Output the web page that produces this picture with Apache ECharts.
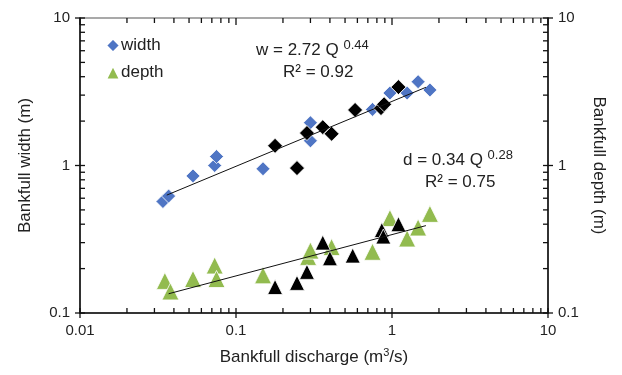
<!DOCTYPE html>
<html><head><meta charset="utf-8">
<script src="https://cdn.jsdelivr.net/npm/echarts@6/dist/echarts.min.js"></script>
<style>html,body{margin:0;padding:0;background:#fff}#c{width:622px;height:375px}</style>
</head><body><div id="c"></div>
<script>
// Width data (m) vs discharge (m3/s)
const widthBlue = [[0.034,0.57],[0.037,0.62],[0.053,0.85],[0.073,1.0],[0.075,1.15],[0.149,0.95],[0.30,1.95],[0.30,1.47],[0.75,2.4],[0.97,3.1],[1.25,3.1],[1.47,3.7],[1.75,3.25]];
const widthBlack = [[0.178,1.36],[0.246,0.96],[0.285,1.66],[0.36,1.82],[0.41,1.64],[0.58,2.38],[0.85,2.45],[0.89,2.6],[1.1,3.4]];
const depthGreen = [[0.035,0.165],[0.038,0.14],[0.053,0.17],[0.073,0.21],[0.075,0.17],[0.149,0.18],[0.29,0.24],[0.30,0.265],[0.41,0.28],[0.75,0.26],[0.97,0.44],[1.25,0.32],[1.47,0.38],[1.75,0.47]];
const depthBlack = [[0.178,0.15],[0.246,0.16],[0.285,0.19],[0.36,0.30],[0.40,0.235],[0.56,0.245],[0.86,0.365],[0.88,0.33],[1.1,0.40]];
// Trend equations: w = 2.72 Q^0.44 ; d = 0.34 Q^0.28
const widthFit = {a:2.72, b:0.44, qmin:0.036, qmax:1.65};
const depthFit = {a:0.34, b:0.28, qmin:0.037, qmax:1.65};
const xDecades = [0.01,0.1,1,10];
const yDecades = [0.1,1,10];
const minorMult = [2,3,4,5,6,7,8,9];

const fitLine = f => [[f.qmin, f.a*Math.pow(f.qmin,f.b)],[f.qmax, f.a*Math.pow(f.qmax,f.b)]];
const ymin=0.1,ymax=10,xmin=0.01,xmax=10;

const xTicks = [];
xDecades.forEach((v,i)=>{xTicks.push([v,1]); if(i<xDecades.length-1) minorMult.forEach(m=>xTicks.push([+(v*m).toPrecision(3),0]));});
const yTicks=[];
yDecades.forEach((v,i)=>{yTicks.push([v,1]); if(i<yDecades.length-1) minorMult.forEach(m=>yTicks.push([+(v*m).toPrecision(3),0]));});

// tick marks as tiny rect symbols placed on the axes through the chart scales
const tickPts = [];
xTicks.forEach(([v,maj])=>{
  tickPts.push({value:[v,ymin],symbolSize:[1.3,maj?10:5],symbolOffset:[0,maj?0:-2.5]});
  tickPts.push({value:[v,ymax],symbolSize:[1.3,maj?7:5],symbolOffset:[0,maj?3.5:2.5]});
});
yTicks.forEach(([v,maj])=>{
  tickPts.push({value:[xmin,v],symbolSize:[maj?10:5,1.3],symbolOffset:[maj?0:2.5,0]});
  tickPts.push({value:[xmax,v],symbolSize:[maj?10:5,1.3],symbolOffset:[maj?0:-2.5,0]});
});

const chart = echarts.init(document.getElementById('c'));
const font = 'Liberation Sans, Arial, sans-serif';
const mk = (c)=>({color:c,borderColor:'#fff',borderWidth:0.8,opacity:1});
const lbl = {fontFamily:font,fontSize:15,color:'#222',formatter:v=>String(+(+v).toPrecision(3))};
const supRich = {s:{fontSize:13,verticalAlign:'top',padding:[0,0,10,0],fontFamily:font,fill:'#222'}};
chart.setOption({
  animation:false,
  grid:{left:80,right:74,top:18,bottom:62,show:true,borderColor:'#555',borderWidth:1.2},
  legend:{orient:'vertical',left:100,top:32,itemGap:10,itemWidth:14,itemHeight:14,
    textStyle:{fontFamily:font,fontSize:17,color:'#222',padding:[0,0,0,-4]},
    data:[{name:'width',icon:'diamond',itemStyle:{color:'#4f75c4'}},{name:'depth',icon:'triangle',itemStyle:{color:'#92bb4f'}}]},
  xAxis:{type:'log',logBase:10,min:xmin,max:xmax,
    name:'Bankfull discharge (m{sup|3}/s)',nameLocation:'middle',nameGap:34,
    nameTextStyle:{fontFamily:font,fontSize:17,color:'#222',rich:{sup:{fontSize:11,verticalAlign:'top',padding:[0,0,10,0],fontFamily:font,color:'#222'}}},
    axisLine:{lineStyle:{color:'#111',width:1.5}},axisTick:{show:false},splitLine:{show:false},
    axisLabel:Object.assign({margin:10},lbl)},
  yAxis:[{type:'log',logBase:10,min:ymin,max:ymax,
    name:'Bankfull width (m)',nameLocation:'middle',nameGap:46,nameRotate:90,
    nameTextStyle:{fontFamily:font,fontSize:17,color:'#222'},
    axisLine:{lineStyle:{color:'#111',width:1.5}},axisTick:{show:false},splitLine:{show:false},
    axisLabel:Object.assign({margin:10},lbl)},
   {type:'log',logBase:10,min:ymin,max:ymax,position:'right',
    name:'Bankfull depth (m)',nameLocation:'middle',nameGap:42,nameRotate:-90,
    nameTextStyle:{fontFamily:font,fontSize:17,color:'#222'},
    axisLine:{show:true,lineStyle:{color:'#111',width:1.5}},axisTick:{show:false},splitLine:{show:false},
    axisLabel:Object.assign({margin:10},lbl)}],
  series:[
    {name:'ticks',type:'scatter',symbol:'rect',clip:false,silent:true,data:tickPts,itemStyle:{color:'#111',opacity:1},z:6},
    {name:'width',type:'scatter',symbol:'diamond',symbolSize:14,data:widthBlue,itemStyle:mk('#4f75c4'),z:3},
    {name:'width2',type:'scatter',symbol:'diamond',symbolSize:15,data:widthBlack,itemStyle:mk('#000'),z:4},
    {name:'depth',type:'scatter',symbol:'triangle',symbolSize:17,yAxisIndex:1,data:depthGreen,itemStyle:mk('#92bb4f'),z:3},
    {name:'depth2',type:'scatter',symbol:'triangle',symbolSize:15,yAxisIndex:1,data:depthBlack,itemStyle:mk('#000'),z:4},
    {name:'wfit',type:'line',data:fitLine(widthFit),symbol:'none',lineStyle:{color:'#111',width:1},z:5},
    {name:'dfit',type:'line',yAxisIndex:1,data:fitLine(depthFit),symbol:'none',lineStyle:{color:'#111',width:1},z:5}
  ],
  graphic:[
    {type:'text',left:256,top:39,style:{text:'w = 2.72 Q {s|0.44}',fontFamily:font,fontSize:17,fill:'#222',rich:supRich}},
    {type:'text',left:283,top:64,style:{text:'R² = 0.92',fontFamily:font,fontSize:17,fill:'#222'}},
    {type:'text',left:403,top:149,style:{text:'d = 0.34 Q {s|0.28}',fontFamily:font,fontSize:17,fill:'#222',rich:supRich}},
    {type:'text',left:425,top:174,style:{text:'R² = 0.75',fontFamily:font,fontSize:17,fill:'#222'}}
  ]
});
</script></body></html>
